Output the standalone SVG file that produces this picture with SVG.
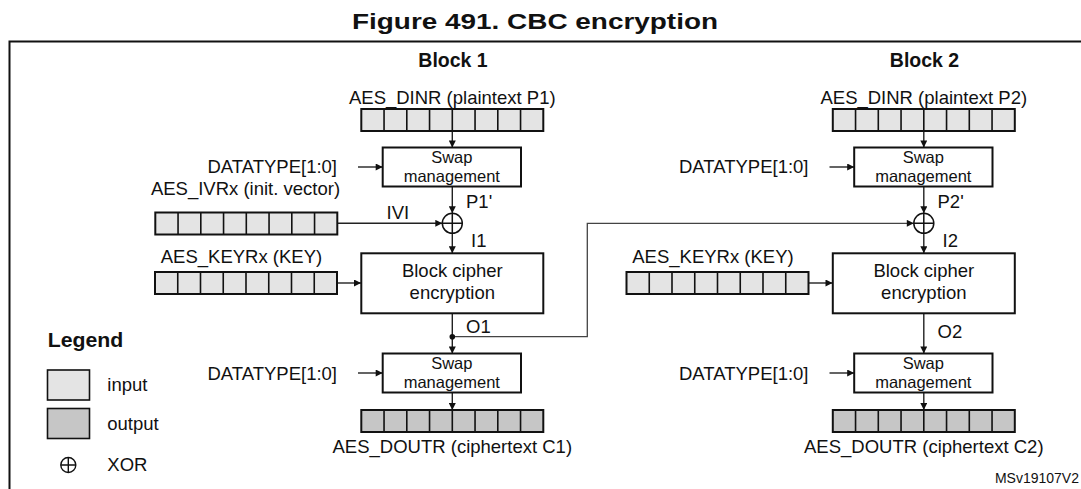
<svg xmlns="http://www.w3.org/2000/svg" xmlns:xlink="http://www.w3.org/1999/xlink" width="1081" height="489" viewBox="0 0 1081 489">
<style>
text{font-family:"Liberation Sans",Arial,sans-serif;fill:#111}
.t{font-size:18.5px}
.s{font-size:16.5px}
.b{font-weight:bold}
.box{fill:#fff;stroke:#111;stroke-width:2}
.c{fill:none;stroke:#222;stroke-width:1.4}
.fb{fill:none;stroke:#444;stroke-width:1.3}
.m{text-anchor:middle}
.e{text-anchor:end}
</style>
<defs>
<marker id="arr" viewBox="0 0 10 10" refX="10" refY="5" markerWidth="8" markerHeight="7" orient="auto" markerUnits="userSpaceOnUse">
<path d="M0,0 L10,5 L0,10 z" fill="#111"/>
</marker>
<g id="cells">
<path d="M22.75,0V22M45.5,0V22M68.25,0V22M91,0V22M113.75,0V22M136.5,0V22M159.25,0V22" stroke="#111" stroke-width="1.6" fill="none"/>
<rect x="0" y="0" width="182" height="22" fill="none" stroke="#111" stroke-width="2"/>
</g>
<g id="regIn"><rect x="0" y="0" width="182" height="22" fill="#e4e4e4"/><use xlink:href="#cells"/></g>
<g id="regOut"><rect x="0" y="0" width="182" height="22" fill="#c6c6c6"/><use xlink:href="#cells"/></g>
<g id="xor"><circle cx="0" cy="0" r="10" fill="#fff" stroke="#111" stroke-width="1.5"/><path d="M-10,0H10M0,-10V10" stroke="#111" stroke-width="1.5"/></g>
</defs>
<rect width="1081" height="489" fill="#fff"/>

<g id="title">
<text class="b" x="535" y="29" font-size="22.5" text-anchor="middle" textLength="366" lengthAdjust="spacingAndGlyphs">Figure 491. CBC encryption</text>
</g>
<g id="frame">
<path d="M9.5,500V41.5H1090" fill="none" stroke="#111" stroke-width="2"/>
</g>

<g id="connectors">
<!-- block 1 -->
<path class="c" d="M452.3,131V147.5" marker-end="url(#arr)"/>
<path class="c" d="M358,167H382.7" marker-end="url(#arr)"/>
<path class="c" d="M452.3,186.5V213.3" marker-end="url(#arr)"/>
<path class="c" d="M337.3,223.3H442.3" marker-end="url(#arr)"/>
<path class="c" d="M452.3,233.3V253.3" marker-end="url(#arr)"/>
<path class="c" d="M337,283H361" marker-end="url(#arr)"/>
<path class="c" d="M452.3,313.3V353.5" marker-end="url(#arr)"/>
<path class="c" d="M358,373H382.7" marker-end="url(#arr)"/>
<path class="c" d="M452.3,392.5V410" marker-end="url(#arr)"/>
<path class="fb" d="M452.3,336.7H587.3V223.3H913.8" marker-end="url(#arr)"/>
<circle cx="452.3" cy="336.7" r="2.8" fill="#111"/>
<!-- block 2 -->
<path class="c" d="M923.8,131V147.5" marker-end="url(#arr)"/>
<path class="c" d="M829.5,167H854.2" marker-end="url(#arr)"/>
<path class="c" d="M923.8,186.5V213.3" marker-end="url(#arr)"/>
<path class="c" d="M923.8,233.3V253.3" marker-end="url(#arr)"/>
<path class="c" d="M808.5,283H832.5" marker-end="url(#arr)"/>
<path class="c" d="M923.8,313.3V353.5" marker-end="url(#arr)"/>
<path class="c" d="M829.5,373H854.2" marker-end="url(#arr)"/>
<path class="c" d="M923.8,392.5V410" marker-end="url(#arr)"/>
</g>

<g id="labels">
<text class="t" x="466" y="207.5">P1'</text>
<text class="t" x="386.5" y="219.3">IVI</text>
<text class="t" x="471" y="246.7">I1</text>
<text class="t" x="466" y="332.5">O1</text>
<text class="t" x="937.5" y="207.5">P2'</text>
<text class="t" x="942.5" y="246.7">I2</text>
<text class="t" x="937.5" y="338">O2</text>
</g>

<!-- Block 1 -->
<g id="block1-label"><text class="b m" x="453" y="67" font-size="19.5">Block 1</text></g>
<g id="dinr1">
<text class="t m" x="452.3" y="104">AES_DINR (plaintext P1)</text>
<use xlink:href="#regIn" x="361.3" y="109"/>
</g>
<g id="datatype1a"><text class="t e" x="337" y="173">DATATYPE[1:0]</text></g>
<g id="swap1a">
<rect class="box" x="382.7" y="147.5" width="138.3" height="39"/>
<text class="s m" x="451.8" y="162.5">Swap</text>
<text class="s m" x="451.8" y="181.5">management</text>
</g>
<g id="ivr1">
<text class="t m" x="245.5" y="195">AES_IVRx (init. vector)</text>
<use xlink:href="#regIn" x="155.3" y="212.5"/>
</g>
<g id="xor1"><use xlink:href="#xor" x="452.3" y="223.3"/></g>
<g id="key1">
<text class="t m" x="241.5" y="263">AES_KEYRx (KEY)</text>
<use xlink:href="#regIn" x="155" y="272"/>
</g>
<g id="cipher1">
<rect class="box" x="361.3" y="253.3" width="182" height="60"/>
<text class="t m" x="452.3" y="277">Block cipher</text>
<text class="t m" x="452.3" y="298.5">encryption</text>
</g>
<g id="datatype1b"><text class="t e" x="337" y="379.5">DATATYPE[1:0]</text></g>
<g id="swap1b">
<rect class="box" x="382.7" y="353.5" width="138.3" height="39"/>
<text class="s m" x="451.8" y="368.5">Swap</text>
<text class="s m" x="451.8" y="387.5">management</text>
</g>
<g id="doutr1">
<use xlink:href="#regOut" x="361.3" y="410"/>
<text class="t m" x="452.3" y="453">AES_DOUTR (ciphertext C1)</text>
</g>

<!-- Block 2 -->
<g id="block2-label"><text class="b m" x="924.5" y="67" font-size="19.5">Block 2</text></g>
<g id="dinr2">
<text class="t m" x="923.8" y="104">AES_DINR (plaintext P2)</text>
<use xlink:href="#regIn" x="832.8" y="109"/>
</g>
<g id="datatype2a"><text class="t e" x="808.5" y="173">DATATYPE[1:0]</text></g>
<g id="swap2a">
<rect class="box" x="854.2" y="147.5" width="138.3" height="39"/>
<text class="s m" x="923.3" y="162.5">Swap</text>
<text class="s m" x="923.3" y="181.5">management</text>
</g>
<g id="xor2"><use xlink:href="#xor" x="923.8" y="223.3"/></g>
<g id="key2">
<text class="t m" x="713" y="263">AES_KEYRx (KEY)</text>
<use xlink:href="#regIn" x="626.5" y="272"/>
</g>
<g id="cipher2">
<rect class="box" x="832.8" y="253.3" width="182" height="60"/>
<text class="t m" x="923.8" y="277">Block cipher</text>
<text class="t m" x="923.8" y="298.5">encryption</text>
</g>
<g id="datatype2b"><text class="t e" x="808.5" y="379.5">DATATYPE[1:0]</text></g>
<g id="swap2b">
<rect class="box" x="854.2" y="353.5" width="138.3" height="39"/>
<text class="s m" x="923.3" y="368.5">Swap</text>
<text class="s m" x="923.3" y="387.5">management</text>
</g>
<g id="doutr2">
<use xlink:href="#regOut" x="832.8" y="410"/>
<text class="t m" x="923.8" y="453">AES_DOUTR (ciphertext C2)</text>
</g>

<!-- Legend -->
<g id="legend">
<text class="b" x="47.7" y="346.7" font-size="19.5" textLength="75.6" lengthAdjust="spacingAndGlyphs">Legend</text>
<rect x="47.5" y="370" width="42" height="30" fill="#e4e4e4" stroke="#111" stroke-width="1.6"/>
<text class="t" x="107.3" y="391">input</text>
<rect x="47.5" y="408.5" width="42" height="30" fill="#c6c6c6" stroke="#111" stroke-width="1.6"/>
<text class="t" x="107.3" y="429.5">output</text>
<circle cx="68.3" cy="465" r="7.5" fill="none" stroke="#111" stroke-width="1.4"/>
<path d="M60.8,465H75.8M68.3,457.5V472.5" stroke="#111" stroke-width="1.4"/>
<text class="t" x="107.3" y="471">XOR</text>
</g>
<g id="ref"><text x="1079" y="483" font-size="14" text-anchor="end">MSv19107V2</text></g>
</svg>
